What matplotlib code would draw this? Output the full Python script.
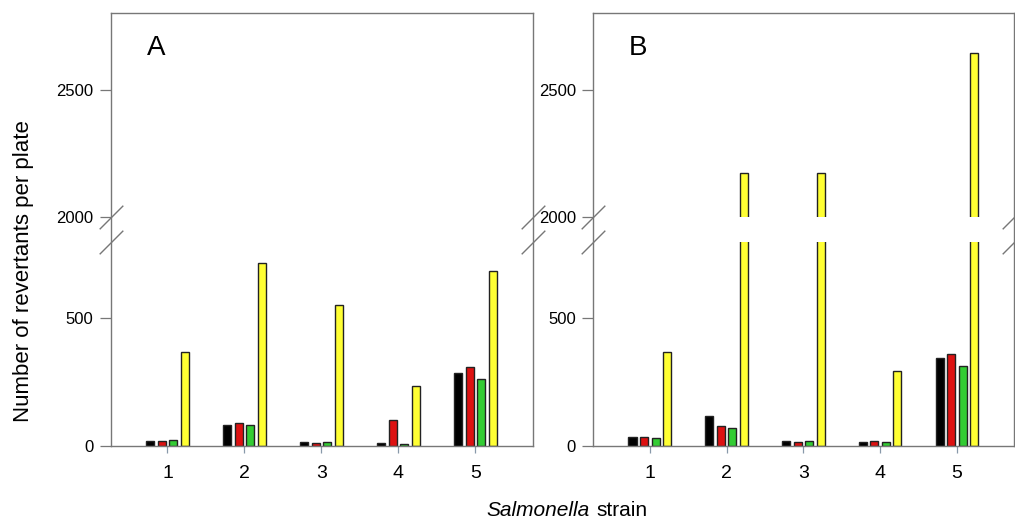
import matplotlib
matplotlib.use("Agg")
import matplotlib.pyplot as plt
import matplotlib.transforms as mtransforms
import numpy as np

plt.rcParams["font.family"] = ["Liberation Sans", "DejaVu Sans"]

# Ames test revertant counts
strains = [1, 2, 3, 4, 5]
panel_a_black = [21, 81, 16, 13, 284]
panel_a_red = [18, 89, 12, 102, 309]
panel_a_green = [22, 81, 14, 8, 263]
panel_a_yellow = [366, 715, 552, 233, 686]

panel_b_black = [34, 117, 21, 17, 346]
panel_b_red = [35, 78, 16, 18, 362]
panel_b_green = [32, 69, 21, 16, 315]
panel_b_yellow = [366, 2173, 2173, 293, 2643]

yticks = [0, 500, 2000, 2500]
bar_colors = ["#000000", "#dd1111", "#33cc33", "#ffff33"]

# broken y axis: 0-800 and 2000-2800, with a small gap in between
LOW_TOP = 800.0
HIGH_BOT = 2000.0
GAP = 95.0


def forward(v):
    v = np.asarray(v, dtype=float)
    mid = LOW_TOP + (v - LOW_TOP) * GAP / (HIGH_BOT - LOW_TOP)
    return np.where(v <= LOW_TOP, v, np.where(v >= HIGH_BOT, v - HIGH_BOT + LOW_TOP + GAP, mid))


def inverse(u):
    u = np.asarray(u, dtype=float)
    mid = LOW_TOP + (u - LOW_TOP) * (HIGH_BOT - LOW_TOP) / GAP
    return np.where(u <= LOW_TOP, u, np.where(u >= LOW_TOP + GAP, u - LOW_TOP - GAP + HIGH_BOT, mid))


def draw_panel(ax, series, label):
    x = np.array(strains, dtype=float)
    step = 0.15
    width = 0.105
    for i, (vals, col) in enumerate(zip(series, bar_colors)):
        ax.bar(x + (i - 1.5) * step, vals, width=width, color=col,
               edgecolor="#222222", linewidth=1.0, zorder=1)

    ax.set_yscale("function", functions=(forward, inverse))
    ax.set_ylim(0, 2800)
    ax.set_xlim(0.26, 5.75)

    # white band hides the bars inside the break
    ax.axhspan(LOW_TOP, HIGH_BOT, color="white", zorder=1.5, lw=0)

    ax.set_yticks(yticks)
    ax.set_yticklabels([str(t) for t in yticks], fontsize=12)
    ax.set_xticks(strains)
    ax.set_xticklabels([str(s) for s in strains], fontsize=14)
    ax.tick_params(axis="y", length=8, width=0.9, color="#777777", pad=4.3)
    ax.tick_params(axis="x", length=5, width=0.9, color="#8899aa", pad=9)
    for sp in ax.spines.values():
        sp.set_color("#777777")
        sp.set_linewidth(1.0)

    # break marks on both side spines
    trans = mtransforms.blended_transform_factory(ax.transAxes, ax.transData)
    ax.plot([0, 0, 1, 1], [LOW_TOP, HIGH_BOT, LOW_TOP, HIGH_BOT], transform=trans,
            marker=[(-1, -1), (1, 1)], markersize=17, linestyle="none",
            color="#777777", mec="#777777", mew=1.0, clip_on=False, zorder=3)

    ax.text(0.086, 0.903, label, transform=ax.transAxes, fontsize=20,
            ha="left", va="baseline")


fig = plt.figure(figsize=(10.15, 5.19), dpi=100)
ax_a = fig.add_axes([0.1089, 0.1407, 0.4163, 0.8343])
ax_b = fig.add_axes([0.5842, 0.1407, 0.4153, 0.8343])

draw_panel(ax_a, [panel_a_black, panel_a_red, panel_a_green, panel_a_yellow], "A")
draw_panel(ax_b, [panel_b_black, panel_b_red, panel_b_green, panel_b_yellow], "B")

fig.text(0.023, 0.478, "Number of revertants per plate", rotation=90,
         fontsize=16, ha="center", va="center")
fig.text(590 / 1015, 0.006, "Salmonella", style="italic", fontsize=15,
         ha="right", va="baseline")
fig.text(596 / 1015, 0.006, "strain", fontsize=15, ha="left", va="baseline")

fig.savefig("out.png", dpi=100)
